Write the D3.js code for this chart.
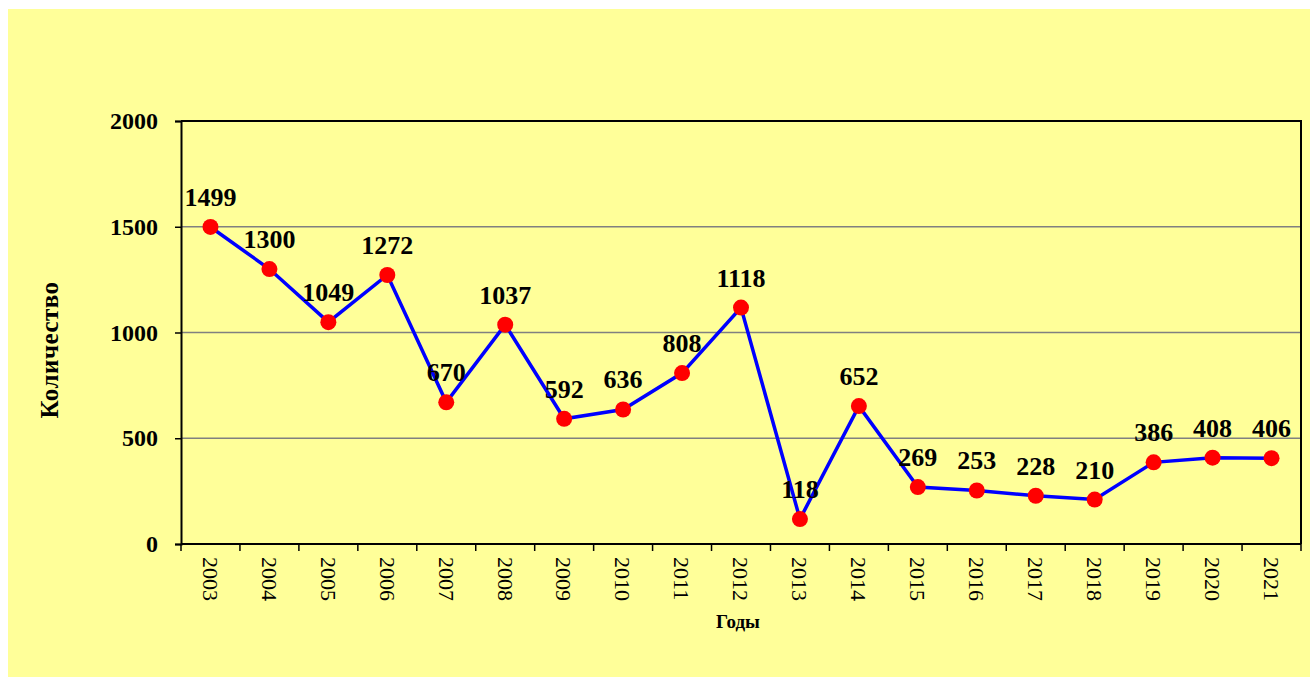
<!DOCTYPE html>
<html>
<head>
<meta charset="utf-8">
<script src="https://cdn.jsdelivr.net/npm/d3@7"></script>
<style>
  body { margin: 0; background: #ffffff; }
  text { font-family: "Liberation Serif", "Times New Roman", serif; fill: #000; }
</style>
</head>
<body>
<div id="chart"></div>
<script>
/* data */
var years = ["2003","2004","2005","2006","2007","2008","2009","2010","2011","2012",
             "2013","2014","2015","2016","2017","2018","2019","2020","2021"];
var counts = [1499,1300,1049,1272,670,1037,592,636,808,1118,
              118,652,269,253,228,210,386,408,406];
var yTicks = [0,500,1000,1500,2000];

var width = 1310, height = 677;
var plot = { left: 181, top: 121, right: 1301, bottom: 544 };

var svg = d3.select("#chart")
    .append("svg")
    .attr("width", width)
    .attr("height", height);

/* yellow chart area */
svg.append("rect")
    .attr("x", 8).attr("y", 9)
    .attr("width", width - 8).attr("height", height - 9)
    .attr("fill", "#ffff99");

var x = d3.scaleBand()
    .domain(years)
    .range([plot.left, plot.right]);

var y = d3.scaleLinear()
    .domain([0, 2000])
    .range([plot.bottom, plot.top]);

/* horizontal gridlines */
svg.append("g")
    .selectAll("line")
    .data(yTicks.filter(function (d) { return d > 0 && d < 2000; }))
    .join("line")
    .attr("x1", plot.left).attr("x2", plot.right)
    .attr("y1", function (d) { return y(d); })
    .attr("y2", function (d) { return y(d); })
    .attr("stroke", "#808080")
    .attr("stroke-width", 1.5);

/* plot frame (top and right) */
svg.append("path")
    .attr("d", "M" + plot.left + "," + plot.top + "H" + plot.right + "V" + plot.bottom)
    .attr("fill", "none")
    .attr("stroke", "#000")
    .attr("stroke-width", 2);

/* y axis */
var yAxis = svg.append("g")
    .attr("transform", "translate(" + plot.left + ",0)")
    .call(d3.axisLeft(y).tickValues(yTicks).tickSize(6).tickPadding(17).tickFormat(d3.format("d")));
yAxis.attr("font-family", null);
yAxis.select(".domain").attr("stroke", "#000").attr("stroke-width", 2);
yAxis.selectAll(".tick line").attr("stroke", "#000").attr("stroke-width", 1.5);
yAxis.selectAll("text")
    .style("font-size", "24px")
    .style("font-weight", "bold")
    .attr("fill", "#000");

/* x axis: ticks sit between the categories */
var xAxis = svg.append("g")
    .attr("transform", "translate(0," + plot.bottom + ")");
xAxis.append("line")
    .attr("x1", plot.left).attr("x2", plot.right)
    .attr("stroke", "#000").attr("stroke-width", 2);
var edges = years.map(function (d) { return x(d); }).concat([x(years[years.length - 1]) + x.bandwidth()]);
xAxis.selectAll("line.tick")
    .data(edges)
    .join("line")
    .attr("class", "tick")
    .attr("x1", function (d) { return d; })
    .attr("x2", function (d) { return d; })
    .attr("y1", 0).attr("y2", 7)
    .attr("stroke", "#000").attr("stroke-width", 1.5);
xAxis.selectAll("text")
    .data(years)
    .join("text")
    .attr("transform", function (d) {
        return "translate(" + (x(d) + x.bandwidth() / 2) + ",13) rotate(90)";
    })
    .attr("dy", "0.35em")
    .style("font-size", "22px")
    .text(function (d) { return d; });

/* axis titles */
svg.append("text")
    .attr("x", 738).attr("y", 628)
    .attr("text-anchor", "middle")
    .style("font-size", "19px")
    .style("font-weight", "bold")
    .text("Годы");

svg.append("text")
    .attr("transform", "translate(58,350) rotate(-90)")
    .attr("text-anchor", "middle")
    .style("font-size", "25px")
    .style("font-weight", "bold")
    .style("letter-spacing", "0.5px")
    .text("Количество");

/* series */
var cx = function (d, i) { return x(years[i]) + x.bandwidth() / 2; };

svg.append("path")
    .datum(counts)
    .attr("fill", "none")
    .attr("stroke", "#0000ff")
    .attr("stroke-width", 3.5)
    .attr("d", d3.line().x(cx).y(function (d) { return y(d); }));

svg.append("g")
    .selectAll("circle")
    .data(counts)
    .join("circle")
    .attr("cx", cx)
    .attr("cy", function (d) { return y(d); })
    .attr("r", 8)
    .attr("fill", "#ff0000");

svg.append("g")
    .selectAll("text")
    .data(counts)
    .join("text")
    .attr("x", cx)
    .attr("y", function (d) { return y(d) - 21; })
    .attr("text-anchor", "middle")
    .style("font-size", "26px")
    .style("font-weight", "bold")
    .text(function (d) { return d; });
</script>
</body>
</html>
